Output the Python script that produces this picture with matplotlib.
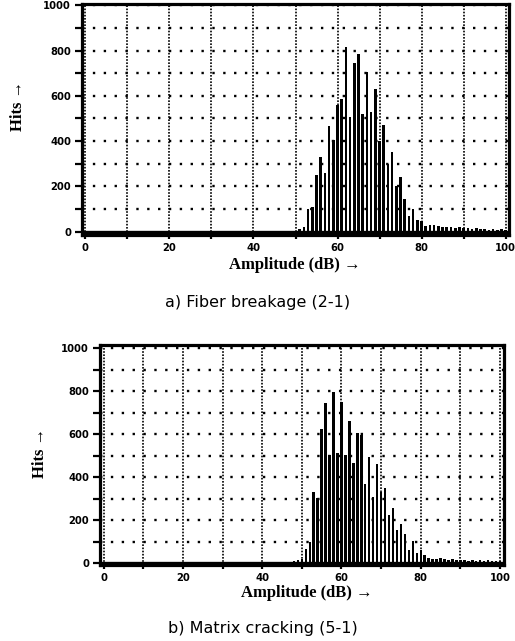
import numpy as np
import matplotlib
matplotlib.use("Agg")
import matplotlib.pyplot as plt
from matplotlib.ticker import MultipleLocator

# amplitude bins (dB) and hit counts
amp_a = list(range(51, 101))
hits_a = [10, 22, 102, 110, 249, 330, 259, 465, 404, 560,
          585, 818, 506, 744, 783, 520, 705, 530, 631, 400,
          470, 300, 350, 200, 240, 145, 70, 100, 50, 48,
          25, 30, 28, 25, 22, 20, 22, 18, 20, 15,
          18, 12, 15, 10, 12, 8, 10, 8, 10, 6]

amp_b = list(range(48, 101))
hits_b = [8, 12, 18, 64, 96, 329, 301, 623, 745, 502,
          797, 513, 750, 502, 662, 466, 603, 595, 367, 491,
          308, 460, 330, 347, 223, 254, 153, 180, 135, 60,
          102, 45, 60, 37, 25, 20, 18, 22, 20, 15,
          18, 12, 15, 12, 10, 12, 8, 14, 10, 12,
          8, 10, 8]

x_ticks = [0, 20, 40, 60, 80, 100]
y_ticks = [0, 200, 400, 600, 800, 1000]
captions = ["a) Fiber breakage (2-1)", "b) Matrix cracking (5-1)"]

W, H = 515, 641
fig = plt.figure(figsize=(W / 100, H / 100), dpi=100)


def px(x0, y0, x1, y1):
    # pixel box -> figure fraction rect
    return [x0 / W, 1 - y1 / H, (x1 - x0) / W, (y1 - y0) / H]


def draw_hist(ax, amp, hits, xlim, ylim):
    ax.set_xlim(*xlim)
    ax.set_ylim(*ylim)
    for gx in range(0, 101, 10):
        ax.axvline(gx, color="black", lw=1.2, ls=(0, (1, 0.9)), zorder=1)
    for gy in range(100, 1001, 100):
        ax.axhline(gy, color="black", lw=1.7, ls=(0, (1, 3.6)), zorder=1)
    ax.axhline(0, color="black", lw=2.4, zorder=2)
    ax.bar(amp, hits, width=0.62, color="black", linewidth=0, zorder=3)

    ax.xaxis.set_minor_locator(MultipleLocator(10))
    ax.yaxis.set_minor_locator(MultipleLocator(100))
    ax.set_xticks(x_ticks)
    ax.set_yticks(y_ticks)
    ax.tick_params(axis="both", which="both", direction="out", width=1.6,
                   labelsize=7.2, colors="black")
    ax.tick_params(axis="y", which="both", length=5, pad=3)
    ax.tick_params(axis="x", which="both", length=3, pad=2.5)
    for lab in ax.get_xticklabels() + ax.get_yticklabels():
        lab.set_fontweight("bold")
        lab.set_family("DejaVu Sans")
    for sp in ax.spines.values():
        sp.set_linewidth(2.3)


ax1 = fig.add_axes(px(82, 4, 509, 235))
draw_hist(ax1, amp_a, hits_a, (-0.8, 100.8), (-15, 1006))

ax2 = fig.add_axes(px(100, 345, 504, 565))
draw_hist(ax2, amp_b, hits_b, (-0.9, 101.0), (-9, 1014))

serif = dict(family="Liberation Serif", fontweight="bold", fontsize=12)
fig.text(295 / W, 1 - 265 / H, "Amplitude (dB) \u2192", ha="center", va="center", **serif)
fig.text(307 / W, 1 - 593 / H, "Amplitude (dB) \u2192", ha="center", va="center", **serif)
fig.text(18 / W, 1 - 106 / H, "Hits \u2192", ha="center", va="center", rotation=90, **serif)
fig.text(40 / W, 1 - 453 / H, "Hits \u2192", ha="center", va="center", rotation=90, **serif)

cap = dict(family="DejaVu Sans", fontsize=11.5, ha="center", va="center")
fig.text(258 / W, 1 - 302 / H, captions[0], **cap)
fig.text(263 / W, 1 - 628 / H, captions[1], **cap)

fig.savefig("out.png", dpi=100)
